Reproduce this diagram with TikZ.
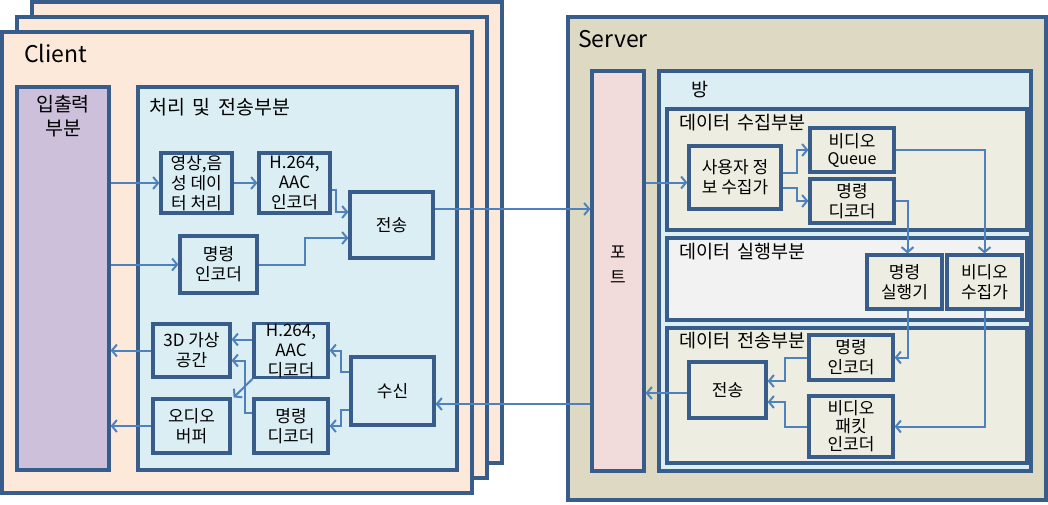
\documentclass[tikz,border=0pt]{standalone}
\usepackage{fontspec}
\setmainfont{Noto Sans CJK KR}
\usetikzlibrary{fit, positioning, arrows.meta}

\definecolor{edgeblue}{HTML}{385D8A}
\definecolor{flowblue}{HTML}{4F81BD}
\definecolor{peach}{HTML}{FDE9D9}
\definecolor{lavender}{HTML}{CCC0DA}
\definecolor{skyfill}{HTML}{DBEEF4}
\definecolor{tanfill}{HTML}{DDD9C3}
\definecolor{rosefill}{HTML}{F2DCDB}
\definecolor{olivefill}{HTML}{EDEEE1}
\definecolor{greyfill}{HTML}{F2F2F2}

\newcommand{\wgap}{\hspace{0.4em}}

\tikzset{
    frame/.style={draw=edgeblue, line width=3.2pt, inner sep=0pt},
    blk/.style={draw=edgeblue, line width=3.2pt, fill=skyfill, align=center,
        inner sep=0pt, font=\fontsize{17}{20}\selectfont},
    title/.style={anchor=base west, inner sep=0pt, font=\fontsize{23}{28}\selectfont},
    sect/.style={anchor=base west, inner sep=0pt, font=\fontsize{18.5}{24}\selectfont},
    flow/.style={draw=flowblue, line width=2pt, -{Straight Barb[length=5pt, width=12pt]}}
}

\begin{document}
\begin{tikzpicture}[x=1pt, y=-1pt]

\useasboundingbox (0,0) rectangle (1048,504);

% client copies
\foreach \k/\d in {3/30, 2/15, 1/0} {
    \node[frame, fill=peach, fit={(2+\d,32-\d) (472+\d,493-\d)}] (client-\k) {};
}
\node[title] (clientname) at (24,62) {Client};

% input/output part
\node[frame, fill=lavender, fit={(17,87) (109,470)}] (io) {};
\node[sect, anchor=north, align=center, font=\fontsize{19.5}{24}\selectfont]
    (iolabel) at (63,95) {입출력\\부분};

% processing and sending part
\node[frame, fill=skyfill, fit={(138,87) (457,470)}] (proc) {};
\node[sect, font=\fontsize{19.5}{24}\selectfont] (proclabel) at (149,114) {처리\wgap 및\wgap 전송부분};

\node[blk, minimum width=71, minimum height=60] (vidproc) at (196.5,183) {영상,음\\성 데이\\터 처리};
\node[blk, minimum width=71, minimum height=60] (avenc) at (294.5,183) {H.264,\\AAC\\인코더};
\node[blk, minimum width=83, minimum height=66] (csend) at (391.5,225) {전송};
\node[blk, minimum width=77, minimum height=57] (cmdenc) at (218.5,264.5) {명령\\인코더};
\node[blk, minimum width=77, minimum height=53] (vspace) at (191.5,350.5) {3D 가상\\공간};
\node[blk, minimum width=74, minimum height=53] (avdec) at (291,350.5) {H.264,\\AAC\\디코더};
\node[blk, minimum width=83, minimum height=68] (crecv) at (392.5,391) {수신};
\node[blk, minimum width=77, minimum height=54] (abuf) at (191.5,426) {오디오\\버퍼};
\node[blk, minimum width=74, minimum height=54] (cmddec) at (291,426) {명령\\디코더};

% server
\node[frame, fill=tanfill, fit={(568,17) (1046,500)}] (server) {};
\node[title] (servername) at (578,47) {Server};

\node[frame, fill=rosefill, fit={(592,71) (644,471)}, align=center,
    font=\fontsize{17}{25}\selectfont] (port) {포\\트};

\node[frame, fill=skyfill, fit={(659,71) (1031,471)}] (room) {};
\node[sect] (roomlabel) at (691,96) {방};

\node[frame, fill=olivefill, fit={(667,109) (1027,230)}] (gather) {};
\node[sect] (gatherlabel) at (679,129) {데이터\wgap 수집부분};
\node[frame, fill=greyfill, fit={(667,238) (1027,320)}] (exec) {};
\node[sect] (execlabel) at (679,258) {데이터\wgap 실행부분};
\node[frame, fill=olivefill, fit={(667,328) (1027,463)}] (xmit) {};
\node[sect] (xmitlabel) at (679,347) {데이터\wgap 전송부분};

\node[blk, fill=olivefill, minimum width=92, minimum height=63] (collector) at (735,177.5) {사용자 정\\보 수집가};
\node[blk, fill=olivefill, minimum width=84, minimum height=44] (vqueue) at (852,150)
    {비디오\\[-3pt]{\fontsize{16}{16}\selectfont Queue}};
\node[blk, fill=olivefill, minimum width=84, minimum height=44] (scmddec) at (852,201) {명령\\디코더};
\node[blk, fill=olivefill, minimum width=75, minimum height=54] (cmdexec) at (904.5,282) {명령\\실행기};
\node[blk, fill=olivefill, minimum width=75, minimum height=54] (vgather) at (984.5,282) {비디오\\수집가};
\node[blk, fill=olivefill, minimum width=84, minimum height=45] (scmdenc) at (851,357.5) {명령\\인코더};
\node[blk, fill=olivefill, minimum width=77, minimum height=56] (ssend) at (727.5,390) {전송};
\node[blk, fill=olivefill, minimum width=84, minimum height=61, font=\fontsize{17}{18}\selectfont]
    (vpktenc) at (851,426.5) {비디오\\패킷\\인코더};

% client connections
\draw[flow] (io.east |- vidproc.west) -- (vidproc.west);
\draw[flow] (vidproc.east) -- (avenc.west);
\draw[flow] ([yshift=-7pt]avenc.east) -- ++(4,0) |- ([yshift=13pt]csend.west);
\draw[flow] (io.east |- cmdenc.west) -- (cmdenc.west);
\draw[flow] (cmdenc.east) -- ++(46,0) |- ([yshift=-13pt]csend.west);
\draw[flow] ([yshift=19pt]crecv.west) -- ++(-8,0) |- (avdec.east);
\draw[flow] ([yshift=-19pt]crecv.west) -- ++(-8,0) |- (cmddec.east);
\draw[flow] ([yshift=11pt]avdec.west) -- ([yshift=11pt]vspace.east);
\draw[flow] (avdec.south west) -- ([xshift=2pt]abuf.north east);
\draw[flow] ([yshift=13pt]cmddec.west) -- ++(-7,0) |- ([yshift=-10pt]vspace.east);
\draw[flow] (vspace.west) -- (vspace.west -| io.east);
\draw[flow] (abuf.west) -- (abuf.west -| io.east);

% client <-> server
\coordinate (sendout) at ([yshift=16pt]csend.east);
\coordinate (recvin) at ([yshift=-13pt]crecv.east);
\draw[flow] (sendout) -- (sendout -| port.west);
\draw[flow] (recvin -| port.west) -- (recvin);

% server connections
\coordinate (colin) at ([yshift=-5pt]collector.west);
\draw[flow] (colin -| port.east) -- (colin);
\draw[flow] ([yshift=5pt]collector.east) -- ++(14,0) |- (vqueue.west);
\draw[flow] ([yshift=-10pt]collector.east) -- ++(14,0) |- (scmddec.west);
\draw[flow] (vqueue.east) -| (vgather.north);
\draw[flow] (scmddec.east) -| ([xshift=3pt]cmdexec.north);
\draw[flow] ([xshift=3pt]cmdexec.south) |- (scmdenc.east);
\draw[flow] (vgather.south) |- (vpktenc.east);
\draw[flow] (scmdenc.west) -- ++(-22,0) |- ([yshift=9pt]ssend.east);
\draw[flow] (vpktenc.west) -- ++(-22,0) |- ([yshift=-12pt]ssend.east);
\draw[flow] ([yshift=-3pt]ssend.west) -- ([yshift=-3pt]ssend.west -| port.east);

\end{tikzpicture}
\end{document}
